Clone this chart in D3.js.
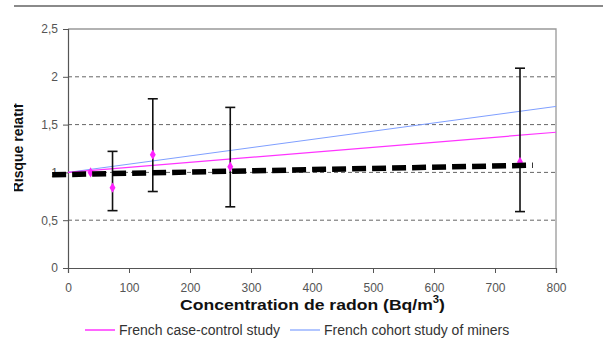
<!DOCTYPE html>
<html>
<head>
<meta charset="utf-8">
<script src="https://cdn.jsdelivr.net/npm/d3@7"></script>
<style>
  body { margin: 0; background: #fff; }
  svg { display: block; font-family: "Liberation Sans", Arial, sans-serif; }
</style>
</head>
<body>
<svg></svg>
<script>
'use strict'

const WIDTH = 603;
const HEIGHT = 338;
const FONT = '"Liberation Sans", Arial, sans-serif';

// data
const pointX = [37, 73, 139, 266, 741];
const pointRR = [1.0, 0.84, 1.185, 1.06, 1.11];
const lowerCI = [null, 0.6, 0.8, 0.64, 0.59];
const upperCI = [null, 1.22, 1.77, 1.68, 2.09];

const caseControlX = [0, 800];
const caseControlRR = [1.0, 1.42];
const cohortX = [0, 800];
const cohortRR = [1.0, 1.69];
const pooledX = [-26, 762];
const pooledRR = [0.975, 1.075];

const xTicks = [0, 100, 200, 300, 400, 500, 600, 700, 800];
const yTicks = [0, 0.5, 1, 1.5, 2, 2.5];
const legendNames = ['French case-control study', 'French cohort study of miners'];
const legendColors = ['#ff33ff', '#7f9fff'];

const plotLeft = 68, plotRight = 556, plotTop = 29, plotBottom = 268;

const svg = d3.select('svg')
  .attr('width', WIDTH)
  .attr('height', HEIGHT);

const x = d3.scaleLinear().domain([0, 800]).range([plotLeft, plotRight]);
const y = d3.scaleLinear().domain([0, 2.5]).range([plotBottom, plotTop]);
const fmt = d => String(d).replace('.', ',');

// top rule of the page
svg.append('line')
  .attr('x1', 14).attr('x2', WIDTH)
  .attr('y1', 6).attr('y2', 6)
  .attr('stroke', '#8a8a8a').attr('stroke-width', 2);

// dashed grid
svg.append('g')
  .selectAll('line')
  .data(yTicks.filter(d => d > 0 && d < 2.5))
  .join('line')
  .attr('x1', plotLeft).attr('x2', plotRight)
  .attr('y1', d => y(d)).attr('y2', d => y(d))
  .attr('stroke', '#666').attr('stroke-width', 1)
  .attr('stroke-dasharray', '4,3');

// plot frame top/right
svg.append('path')
  .attr('d', `M${plotLeft},${y(2.5)}H${plotRight}V${plotBottom}`)
  .attr('fill', 'none').attr('stroke', '#999').attr('stroke-width', 1.3);

// axes
const yAxis = svg.append('g')
  .attr('transform', `translate(${plotLeft},0)`)
  .call(d3.axisLeft(y).tickValues(yTicks).tickFormat(fmt).tickSize(5).tickPadding(5));
const xAxis = svg.append('g')
  .attr('transform', `translate(0,${plotBottom})`)
  .call(d3.axisBottom(x).tickValues(xTicks).tickSize(5).tickPadding(10));
[yAxis, xAxis].forEach(g => {
  g.attr('font-family', FONT);
  g.select('.domain').attr('stroke', '#555').attr('stroke-width', 1.2);
  g.selectAll('.tick line').attr('stroke', '#555');
  g.selectAll('text').attr('fill', '#555').attr('font-size', 12);
});

// fitted lines
const line = d3.line().x(d => x(d[0])).y(d => y(d[1]));
svg.append('path')
  .datum(cohortX.map((v, i) => [v, cohortRR[i]]))
  .attr('d', line).attr('fill', 'none')
  .attr('stroke', legendColors[1]).attr('stroke-width', 1);
svg.append('path')
  .datum(caseControlX.map((v, i) => [v, caseControlRR[i]]))
  .attr('d', line).attr('fill', 'none')
  .attr('stroke', legendColors[0]).attr('stroke-width', 1.2);

// error bars
const bars = svg.append('g')
  .selectAll('g')
  .data(pointX.map((v, i) => ({x: v, lo: lowerCI[i], hi: upperCI[i]})).filter(d => d.lo != null))
  .join('g')
  .attr('stroke', '#111').attr('stroke-width', 1.6);
bars.append('line')
  .attr('x1', d => x(d.x)).attr('x2', d => x(d.x))
  .attr('y1', d => y(d.lo)).attr('y2', d => y(d.hi));
bars.append('line')
  .attr('x1', d => x(d.x) - 5).attr('x2', d => x(d.x) + 5)
  .attr('y1', d => y(d.lo)).attr('y2', d => y(d.lo));
bars.append('line')
  .attr('x1', d => x(d.x) - 5).attr('x2', d => x(d.x) + 5)
  .attr('y1', d => y(d.hi)).attr('y2', d => y(d.hi));

// pink point estimates
svg.append('g')
  .selectAll('path')
  .data(pointX.map((v, i) => [v, pointRR[i]]))
  .join('path')
  .attr('d', d3.symbol(d3.symbolDiamond, 30))
  .attr('transform', d => `translate(${x(d[0])},${y(d[1])})`)
  .attr('fill', '#ff22ff');

// thick black dashed line
svg.append('path')
  .datum(pooledX.map((v, i) => [v, pooledRR[i]]))
  .attr('d', line).attr('fill', 'none')
  .attr('stroke', '#000').attr('stroke-width', 5.5)
  .attr('stroke-dasharray', '14,6');

// axis titles
const xt = svg.append('text')
  .attr('x', 180).attr('y', 310)
  .attr('font-size', 15.5).attr('font-weight', 'bold').attr('fill', '#111')
  .attr('textLength', 265).attr('lengthAdjust', 'spacingAndGlyphs');
xt.append('tspan').text('Concentration de radon (Bq/m');
xt.append('tspan').text('3').attr('font-size', 10).attr('dy', -7);
xt.append('tspan').text(')').attr('dy', 7);

svg.append('clipPath').attr('id', 'yclip')
  .append('rect').attr('x', 14).attr('y', 0).attr('width', 60).attr('height', HEIGHT);
svg.append('g')
  .attr('clip-path', 'url(#yclip)')
  .append('text')
  .attr('transform', 'translate(23,148) rotate(-90)')
  .attr('text-anchor', 'middle')
  .attr('font-size', 14).attr('font-weight', 'bold').attr('fill', '#111')
  .text('Risque relatif');

// legend
const legendX = [85, 290];
const lg = svg.append('g')
  .selectAll('g')
  .data(legendNames)
  .join('g')
  .attr('transform', (d, i) => `translate(${legendX[i]},330)`);
lg.append('line')
  .attr('x1', 0).attr('x2', 30).attr('y1', 0).attr('y2', 0)
  .attr('stroke', (d, i) => legendColors[i]).attr('stroke-width', (d, i) => i === 0 ? 1.5 : 1.2);
lg.append('text')
  .attr('x', 34).attr('y', 5)
  .attr('font-size', 14).attr('fill', '#333')
  .text(d => d);
</script>
</body>
</html>
